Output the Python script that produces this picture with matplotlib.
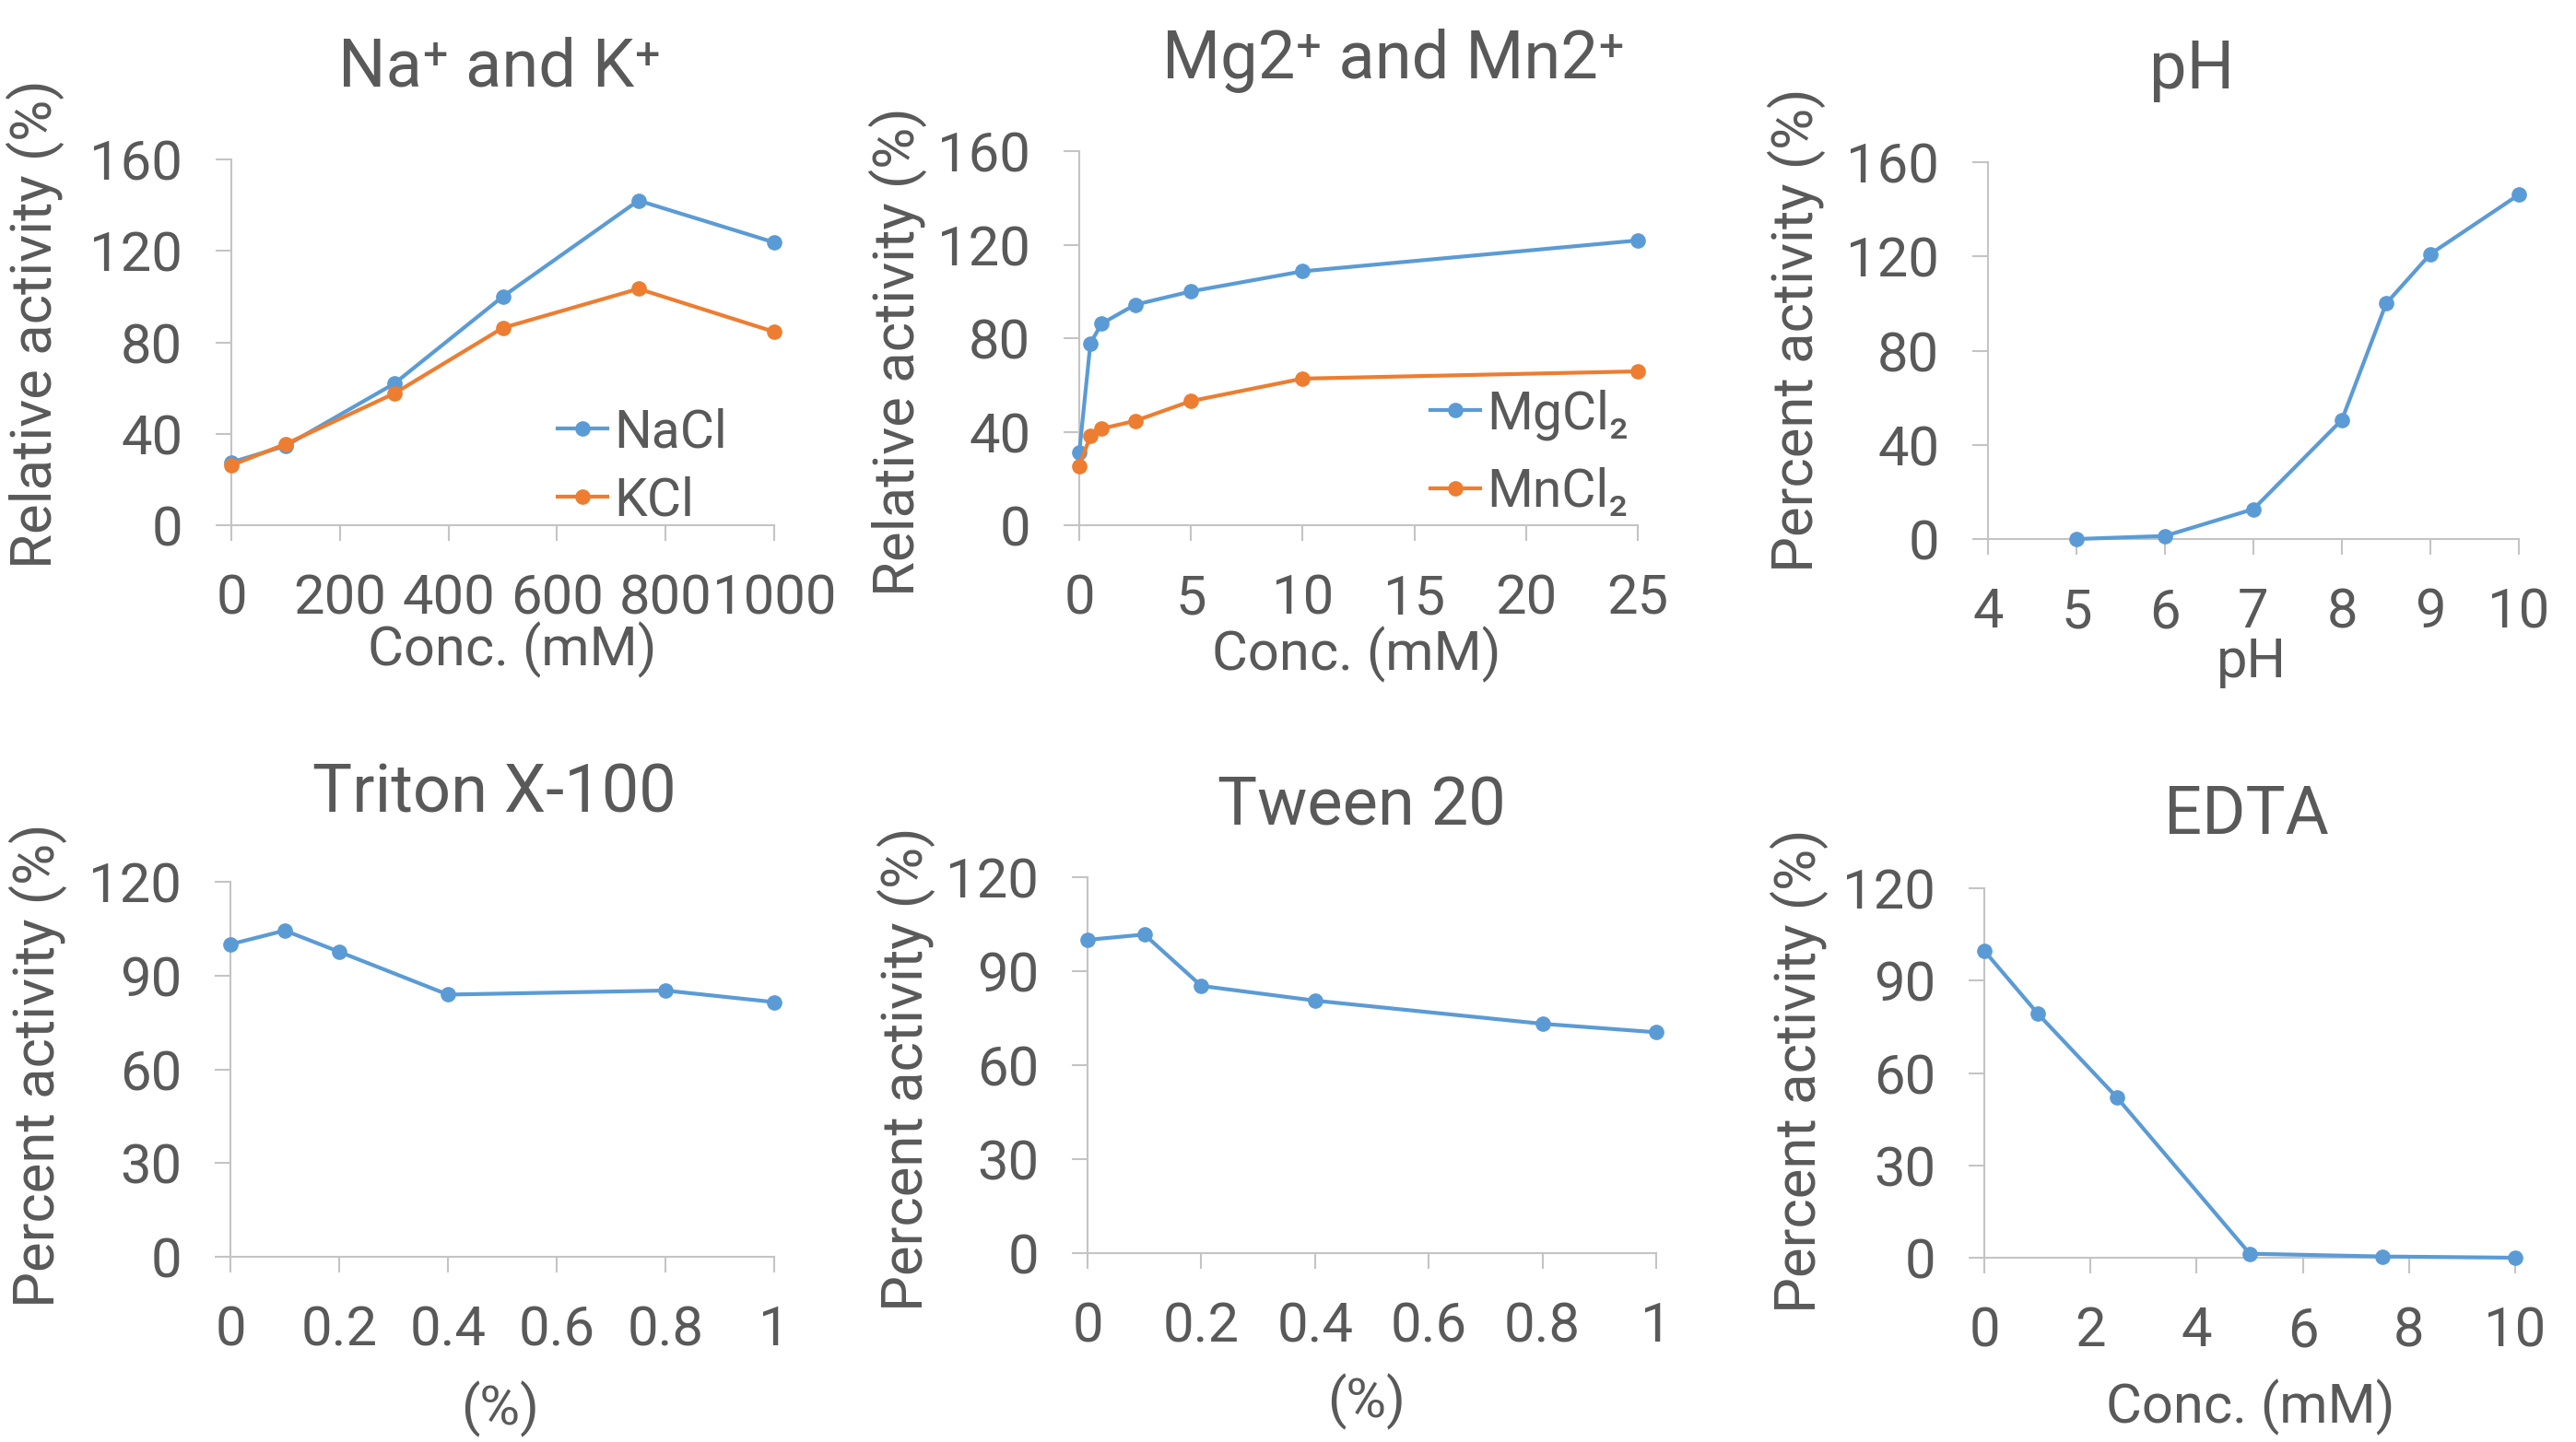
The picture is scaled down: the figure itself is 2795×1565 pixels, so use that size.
import matplotlib
matplotlib.use("Agg")
import matplotlib.pyplot as plt

# ---------------- data ----------------
na_k_conc = [0, 100, 300, 500, 750, 1000]
nacl_act = [27.5, 34.7, 61.9, 100, 142, 123.7]
kcl_act = [26.2, 35.5, 57.6, 86.3, 103.4, 84.6]

mg_mn_conc = [0, 0.5, 1, 2.5, 5, 10, 25]
mgcl2_act = [31, 77.8, 86.2, 94.3, 100, 108.6, 121.8]
mncl2_act = [25.2, 38.2, 41.3, 44.6, 53.1, 62.7, 65.8]

ph_vals = [5, 6, 7, 8, 8.5, 9, 10]
ph_act = [0, 1.3, 12.7, 50.6, 100, 121, 146.2]

triton_conc = [0, 0.1, 0.2, 0.4, 0.8, 1]
triton_act = [100, 104.4, 97.6, 83.9, 85.2, 81.5]

tween_conc = [0, 0.1, 0.2, 0.4, 0.8, 1]
tween_act = [100, 101.7, 85.3, 80.6, 73.2, 70.5]

edta_conc = [0, 1, 2.5, 5, 7.5, 10]
edta_act = [99.7, 79.4, 52, 1.3, 0.4, 0]

titles = ["Na\u207a and K\u207a", "Mg2\u207a and Mn2\u207a", "pH",
          "Triton X-100", "Tween 20", "EDTA"]
xlabels = ["Conc. (mM)", "Conc. (mM)", "pH", "(%)", "(%)", "Conc. (mM)"]
ylabels = ["Relative activity (%)", "Relative activity (%)", "Percent activity (%)",
           "Percent activity (%)", "Percent activity (%)", "Percent activity (%)"]
xticks_list = [[0, 200, 400, 600, 800, 1000], [0, 5, 10, 15, 20, 25],
               [4, 5, 6, 7, 8, 9, 10], [0, 0.2, 0.4, 0.6, 0.8, 1],
               [0, 0.2, 0.4, 0.6, 0.8, 1], [0, 2, 4, 6, 8, 10]]
xtick_labels = [["0", "200", "400", "600", "800", "1000"],
                ["0", "5", "10", "15", "20", "25"],
                ["4", "5", "6", "7", "8", "9", "10"],
                ["0", "0.2", "0.4", "0.6", "0.8", "1"],
                ["0", "0.2", "0.4", "0.6", "0.8", "1"],
                ["0", "2", "4", "6", "8", "10"]]
yticks_top = [0, 40, 80, 120, 160]
yticks_bot = [0, 30, 60, 90, 120]

# ---------------- style ----------------
FONT = ["Roboto", "DejaVu Sans"]
plt.rcParams["font.family"] = FONT
TXT = "#595959"
AXC = "#C4C4C4"
BLUE = "#5B9BD5"
ORANGE = "#ED7D31"
W, H = 2795, 1565

fig = plt.figure(figsize=(W / 100, H / 100), dpi=100)
fig.patch.set_facecolor("white")

# axes boxes in pixels: left, right, top, bottom
boxes = [(251, 840, 173, 570), (1171, 1777, 164, 570), (2157, 2733, 176, 585),
         (250, 840, 957, 1364), (1180, 1797, 952, 1360), (2153, 2729, 964, 1365)]
# title (center x, baseline y)
title_pos = [(542, 94), (1512, 85), (2378, 96), (536, 881), (1477, 895), (2437, 905)]
# xlabel (center x, baseline y)
xlabel_pos = [(556, 722), (1472, 727), (2443, 735), (543, 1546), (1483, 1538), (2442, 1544)]
# ylabel (baseline x, center y)
ylabel_pos = [(56, 352), (992, 382), (1967, 358), (59, 1156), (1001, 1160), (1970, 1162)]
xlims = [(0, 1000), (0, 25), (4, 10), (0, 1), (0, 1), (0, 10)]


def fx(px):
    return px / W


def fy(py):
    return 1 - py / H


axes = []
for i, (L, R, T, B) in enumerate(boxes):
    ax = fig.add_axes([fx(L), fy(B), (R - L) / W, (B - T) / H])
    axes.append(ax)
    for s in ("top", "right"):
        ax.spines[s].set_visible(False)
    for s in ("left", "bottom"):
        ax.spines[s].set_color(AXC)
        ax.spines[s].set_linewidth(1.5)
    ax.set_xlim(*xlims[i])
    ax.set_xticks(xticks_list[i])
    ax.set_xticklabels(xtick_labels[i])
    if i < 3:
        ax.set_ylim(0, 160)
        ax.set_yticks(yticks_top)
    else:
        ax.set_ylim(0, 120)
        ax.set_yticks(yticks_bot)
    ax.tick_params(axis="both", direction="out", length=12, width=1.5, color=AXC,
                   labelcolor=TXT, labelsize=43)
    ax.tick_params(axis="x", pad=25)
    ax.tick_params(axis="y", pad=26)
    ax.set_xlabel(xlabels[i], fontsize=43, color=TXT, va="baseline")
    ax.xaxis.set_label_coords(fx(xlabel_pos[i][0]), fy(xlabel_pos[i][1]),
                              transform=fig.transFigure)
    ax.set_ylabel(ylabels[i], fontsize=44.5, color=TXT, va="baseline")
    ax.yaxis.set_label_coords(fx(ylabel_pos[i][0]), fy(ylabel_pos[i][1]),
                              transform=fig.transFigure)
    fig.text(fx(title_pos[i][0]), fy(title_pos[i][1]), titles[i], fontsize=52,
             color=TXT, ha="center", va="baseline")

line_kw = dict(linewidth=3, marker="o", markersize=11, clip_on=False, zorder=3)

axes[0].plot(na_k_conc, nacl_act, color=BLUE, label="NaCl", **line_kw)
axes[0].plot(na_k_conc, kcl_act, color=ORANGE, label="KCl", **line_kw)
axes[1].plot(mg_mn_conc, mgcl2_act, color=BLUE, label="MgCl\u2082", **line_kw)
axes[1].plot(mg_mn_conc, mncl2_act, color=ORANGE, label="MnCl\u2082", **line_kw)
axes[2].plot(ph_vals, ph_act, color=BLUE, **line_kw)
axes[3].plot(triton_conc, triton_act, color=BLUE, **line_kw)
axes[4].plot(tween_conc, tween_act, color=BLUE, **line_kw)
axes[5].plot(edta_conc, edta_act, color=BLUE, **line_kw)

leg_kw = dict(frameon=False, fontsize=41, handlelength=0.94, handletextpad=0.14,
              borderpad=0, borderaxespad=0, loc="upper left",
              bbox_transform=fig.transFigure, labelcolor=TXT)
axes[0].legend(bbox_to_anchor=(fx(605), fy(442)), labelspacing=0.34, **leg_kw)
axes[1].legend(bbox_to_anchor=(fx(1552), fy(422)), labelspacing=0.52, **leg_kw)

fig.savefig("out.png", dpi=100, facecolor="white")
